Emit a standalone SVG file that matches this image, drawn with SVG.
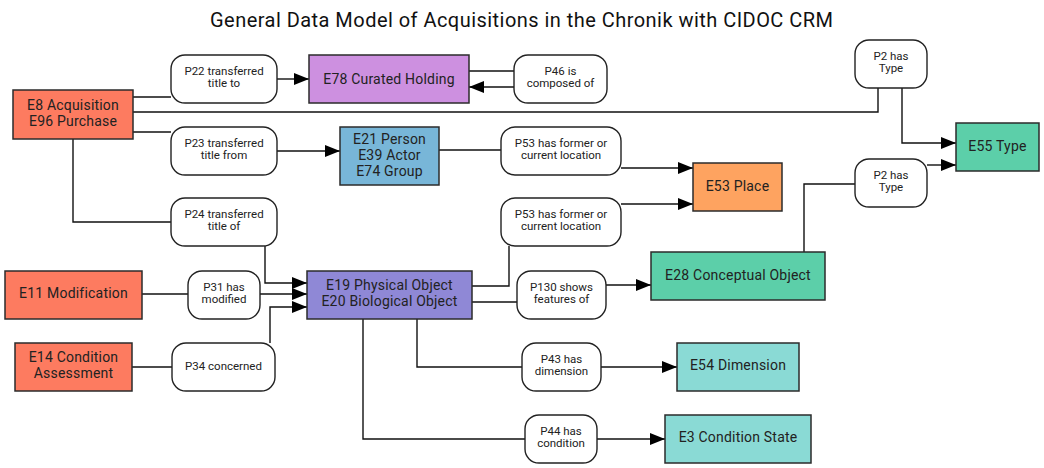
<svg xmlns="http://www.w3.org/2000/svg" width="1044" height="468" viewBox="0 0 1044 468">
<style>
.n{stroke:#2b2b2b;stroke-width:1.5}
.p{fill:#fff;stroke:#222;stroke-width:1.4}
.t{font-family:Roboto,"Liberation Sans",sans-serif;font-size:14px;fill:#222;text-anchor:middle;letter-spacing:0.2px}
.s{font-family:Roboto,"Liberation Sans",sans-serif;font-size:11.5px;fill:#222;text-anchor:middle}
.c path{fill:none;stroke:#111;stroke-width:1.4}
.a{marker-end:url(#ah)}
</style>
<defs>
<marker id="ah" markerUnits="userSpaceOnUse" markerWidth="16" markerHeight="13" refX="15" refY="6" orient="auto"><path d="M0,0 L15,6 L0,12 z" fill="#000"/></marker>
</defs>
<rect width="1044" height="468" fill="#fff"/>
<text x="210" y="27" font-family="Roboto,'Liberation Sans',sans-serif" font-size="20" fill="#111" textLength="623" lengthAdjust="spacing">General Data Model of Acquisitions in the Chronik with CIDOC CRM</text>
<g class="c">
<path d="M133,97 H171"/>
<path class="a" d="M277,79 H309"/>
<path d="M469,71 H514"/>
<path class="a" d="M514,87 H469"/>
<path d="M133,112 H878 V88"/>
<path class="a" d="M902,88 V143 H956"/>
<path d="M133,132 H171"/>
<path class="a" d="M277,151 H340"/>
<path d="M439,150 H501"/>
<path class="a" d="M621,168 H693"/>
<path d="M472,286 H509 V246"/>
<path class="a" d="M621,204 H693"/>
<path d="M73,139 V222 H171"/>
<path class="a" d="M265,246 V283 H307"/>
<path d="M142,294 H188"/>
<path class="a" d="M260,294 H307"/>
<path d="M132,367 H172"/>
<path class="a" d="M270,343 V307 H307"/>
<path d="M472,302 H517"/>
<path class="a" d="M606,285 H651"/>
<path d="M804,252 V184 H855"/>
<path class="a" d="M927,165 H956"/>
<path d="M417,319 V367 H522"/>
<path class="a" d="M601,367 H677"/>
<path d="M363,319 V439 H525"/>
<path class="a" d="M597,439 H665"/>
</g>
<g id="e8"><rect class="n" x="13" y="90" width="120" height="49" fill="#fd7b60"/><text class="t" x="73" y="110">E8 Acquisition</text><text class="t" x="73" y="126">E96 Purchase</text></g>
<g id="p22"><rect class="p" x="171" y="55" width="106" height="48" rx="14"/><text class="s" x="224" y="75">P22 transferred</text><text class="s" x="224" y="87">title to</text></g>
<g id="e78"><rect class="n" x="309" y="55" width="160" height="48" fill="#cd90e0"/><text class="t" x="389" y="84">E78 Curated Holding</text></g>
<g id="p46"><rect class="p" x="514" y="55" width="93" height="48" rx="14"/><text class="s" x="560.5" y="75">P46 is</text><text class="s" x="560.5" y="87">composed of</text></g>
<g id="p2a"><rect class="p" x="855" y="40" width="72" height="48" rx="14"/><text class="s" x="891" y="60">P2 has</text><text class="s" x="891" y="72">Type</text></g>
<g id="e55"><rect class="n" x="956" y="123" width="83" height="48" fill="#5ccfa9"/><text class="t" x="997.5" y="151">E55 Type</text></g>
<g id="p23"><rect class="p" x="171" y="127" width="106" height="48" rx="14"/><text class="s" x="224" y="147">P23 transferred</text><text class="s" x="224" y="159">title from</text></g>
<g id="e21"><rect class="n" x="340" y="127" width="99" height="58" fill="#78b6d8"/><text class="t" x="389.5" y="144">E21 Person</text><text class="t" x="389.5" y="160">E39 Actor</text><text class="t" x="389.5" y="176">E74 Group</text></g>
<g id="p53a"><rect class="p" x="501" y="127" width="120" height="48" rx="14"/><text class="s" x="561" y="147">P53 has former or</text><text class="s" x="561" y="159">current location</text></g>
<g id="e53"><rect class="n" x="693" y="163" width="89" height="48" fill="#fea360"/><text class="t" x="737.5" y="191">E53 Place</text></g>
<g id="p2b"><rect class="p" x="855" y="159" width="72" height="48" rx="14"/><text class="s" x="891" y="179">P2 has</text><text class="s" x="891" y="191">Type</text></g>
<g id="p24"><rect class="p" x="171" y="198" width="106" height="48" rx="14"/><text class="s" x="224" y="218">P24 transferred</text><text class="s" x="224" y="230">title of</text></g>
<g id="p53b"><rect class="p" x="501" y="198" width="120" height="48" rx="14"/><text class="s" x="561" y="218">P53 has former or</text><text class="s" x="561" y="230">current location</text></g>
<g id="e28"><rect class="n" x="651" y="252" width="174" height="48" fill="#5ccfa9"/><text class="t" x="738" y="280">E28 Conceptual Object</text></g>
<g id="e11"><rect class="n" x="5" y="271" width="137" height="48" fill="#fd7b60"/><text class="t" x="73.5" y="298">E11 Modification</text></g>
<g id="p31"><rect class="p" x="188" y="271" width="72" height="48" rx="14"/><text class="s" x="224" y="291">P31 has</text><text class="s" x="224" y="303">modified</text></g>
<g id="e19"><rect class="n" x="307" y="271" width="165" height="48" fill="#8f88d6"/><text class="t" x="389.5" y="290">E19 Physical Object</text><text class="t" x="389.5" y="306">E20 Biological Object</text></g>
<g id="p130"><rect class="p" x="517" y="271" width="89" height="48" rx="14"/><text class="s" x="561.5" y="291">P130 shows</text><text class="s" x="561.5" y="303">features of</text></g>
<g id="e14"><rect class="n" x="15" y="343" width="117" height="48" fill="#fd7b60"/><text class="t" x="73.5" y="362">E14 Condition</text><text class="t" x="73.5" y="378">Assessment</text></g>
<g id="p34"><rect class="p" x="172" y="343" width="103" height="48" rx="14"/><text class="s" x="223.5" y="370">P34 concerned</text></g>
<g id="p43"><rect class="p" x="522" y="343" width="79" height="48" rx="14"/><text class="s" x="561.5" y="363">P43 has</text><text class="s" x="561.5" y="375">dimension</text></g>
<g id="e54"><rect class="n" x="677" y="343" width="122" height="48" fill="#8adad5"/><text class="t" x="738" y="370">E54 Dimension</text></g>
<g id="p44"><rect class="p" x="525" y="415" width="72" height="48" rx="14"/><text class="s" x="561" y="435">P44 has</text><text class="s" x="561" y="447">condition</text></g>
<g id="e3"><rect class="n" x="665" y="415" width="146" height="48" fill="#8adad5"/><text class="t" x="738" y="442">E3 Condition State</text></g>
</svg>
